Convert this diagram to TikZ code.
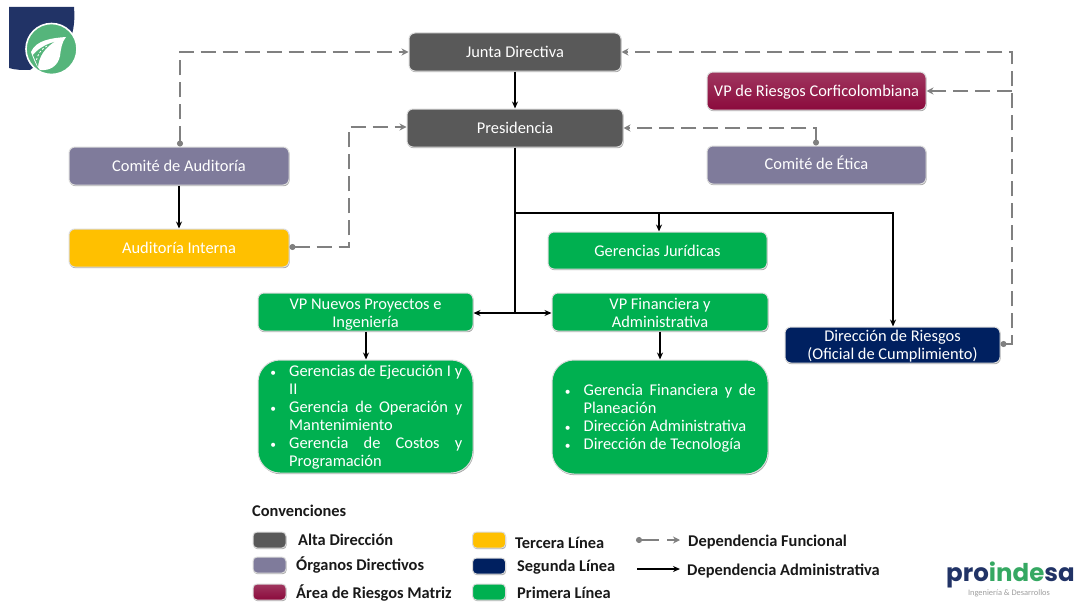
\documentclass[tikz,border=0pt]{standalone}
\usepackage{fontspec}
\setmainfont{Carlito}
\newfontfamily\logofont{Poppins}
\usetikzlibrary{arrows.meta,shadows,calc}
\definecolor{altaC}{HTML}{595959}
\definecolor{organoC}{HTML}{7F7B9B}
\definecolor{riesgoC}{HTML}{8B0A3C}
\definecolor{terceraC}{HTML}{FFC000}
\definecolor{segundaC}{HTML}{002060}
\definecolor{primeraC}{HTML}{00B050}
\definecolor{funcC}{HTML}{808080}
\definecolor{navyC}{HTML}{213366}
\definecolor{leafC}{HTML}{55B57B}
\definecolor{logoG}{HTML}{35A862}
\tikzset{
  x=1pt,y=-1pt,
  box/.style={draw=black!14,line width=1pt,rounded corners=6pt,text=white,align=center,
    font=\fontsize{16.4}{18}\selectfont,inner sep=0pt,
    drop shadow={shadow xshift=0.6pt,shadow yshift=-1.2pt,opacity=.35,fill=black}},
  sw/.style={box,rounded corners=4pt,minimum width=33pt,minimum height=16pt},
  risk/.style={top color=riesgoC!82!white,bottom color=riesgoC},
  lst/.style={text=white,inner sep=0pt,font=\fontsize{16.4}{18}\selectfont,anchor=north west,align=left},
  func/.style={funcC,line width=1.7pt,dash pattern=on 15pt off 7pt,{Circle[length=6pt]}-{Stealth[length=7pt,width=7pt]}},
  funcb/.style={funcC,line width=1.7pt,dash pattern=on 15pt off 7pt,-{Stealth[length=7pt,width=7pt]}},
  adm/.style={black,line width=1.7pt,-{Stealth[length=7pt,width=6pt]}},
  leg/.style={anchor=west,inner sep=0pt,font=\fontsize{16.4}{18}\selectfont\bfseries,text=black!90},
}
\newcommand{\bx}[7][]{\node[box,#7,minimum width=#4pt-#3pt,minimum height=#6pt-#5pt,#1] (#2) at ({(#3+#4)/2},{(#5+#6)/2})}
\newcommand{\itm}{\llap{\scalebox{.7}{\textbullet}\hspace{13pt}}}
\newcommand{\jl}[2]{\makebox[#1pt][s]{#2}}
\newcommand{\low}[2]{\raisebox{#1}[\height][\depth]{\begin{tabular}{@{}c@{}}#2\end{tabular}}}
\begin{document}
\begin{tikzpicture}
\useasboundingbox (0,0) rectangle (1078,602);
% logo
\fill[navyC] (9,7) -- (74,7) .. controls (75,20) and (74,30) .. (70,40) -- (30,70) .. controls (22,70) and (15,70) .. (9,68) -- cycle;
\node[circle,fill=leafC,draw=white,line width=1.6pt,minimum size=51pt,inner sep=0pt] (logoc) at (51.5,49) {};
\fill[white] (66,37) .. controls (52,38) and (36,40) .. (31,52) .. controls (34,60) and (36,66) .. (40,70) .. controls (50,71) and (58,66) .. (60,56) .. controls (61,48) and (62,42) .. (66,37) -- cycle;
\fill[leafC] (54,42) .. controls (44,45) and (37,50) .. (33,55) -- (38,67) .. controls (39,56) and (45,48) .. (54,42) -- cycle;
\draw[white,line width=.8pt,dash pattern=on 2pt off 2pt] (47,46) .. controls (41,49) and (37,55) .. (36,62);
% boxes
\bx{junta}{409}{621}{33}{71}{fill=altaC} {Junta Directiva};
\bx{pres}{407}{623}{109}{147}{fill=altaC} {Presidencia};
\bx{caud}{69}{289}{147}{185}{fill=organoC} {Comité de Auditoría};
\bx{aint}{69}{289}{229}{267}{fill=terceraC} {Auditoría Interna};
\bx{vpr}{707}{926}{72}{110}{risk} {\low{-2pt}{VP de Riesgos Corficolombiana}};
\bx{cet}{707}{926}{146}{184}{fill=organoC} {\low{0pt}{Comité de Ética}};
\bx{gjur}{548}{767}{232}{269}{fill=primeraC} {\low{-2pt}{Gerencias Jurídicas}};
\bx{vpn}{258}{473}{293}{331}{fill=primeraC} {\low{-3pt}{VP Nuevos Proyectos e\\Ingeniería}};
\bx{vpf}{552}{768}{293}{331}{fill=primeraC} {\low{-3pt}{VP Financiera y\\Administrativa}};
\bx{drie}{785}{1000}{327}{363}{fill=segundaC} {\low{-2pt}{Dirección de Riesgos\\(Oficial de Cumplimiento)}};
\bx[rounded corners=22pt]{gl}{258}{473}{360}{473}{fill=primeraC} {};
\bx[rounded corners=22pt]{gr}{552}{768}{360}{474}{fill=primeraC} {};
\node[lst] (gltxt) at (289,365) {\itm\jl{173}{Gerencias de Ejecución I y}\\
II\\
\itm\jl{173}{Gerencia de Operación y}\\
Mantenimiento\\
\itm\jl{173}{Gerencia de Costos y}\\
Programación};
\node[lst] (grtxt) at (583.5,384) {\itm\jl{172}{Gerencia Financiera y de}\\
Planeación\\
\itm Dirección Administrativa\\
\itm Dirección de Tecnología};
% functional
\coordinate (a1) at (180,52); \coordinate (a2) at (349,247); \coordinate (a3) at (349,127);
\coordinate (a4) at (816,128); \coordinate (a5) at (1012,344); \coordinate (a6) at (1012,52); \coordinate (a7) at (1012,91);
\draw[func] (caud.north -| a1) -- (a1) -- (a1 -| junta.west);
\draw[func] (aint.east |- a2) -- (a2) -- (a3) -- (a3 -| pres.west);
\draw[func] (cet.north -| a4) -- (a4) -- (a4 -| pres.east);
\draw[func] (drie.east |- a5) -- (a5) -- (a6) -- (a6 -| junta.east);
\draw[funcb] (a7) -- (a7 -| vpr.east);
% administrative
\coordinate (b1) at (515,213); \coordinate (b2) at (515,313); \coordinate (b3) at (893,213); \coordinate (b4) at (659,213);
\coordinate (c0) at (515,0); \coordinate (c1) at (366,0); \coordinate (c2) at (660,0);
\draw[adm] (junta.south -| c0) -- (pres.north -| c0);
\draw[adm,-] (pres.south -| b1) -- (b2);
\draw[adm] (b1) -- (b3) -- (b3 |- drie.north);
\draw[adm] (b4) -- (b4 |- gjur.north);
\draw[adm] (b2) -- (b2 -| vpn.east);
\draw[adm] (b2) -- (b2 -| vpf.west);
\draw[adm] (caud.south) -- (aint.north);
\draw[adm] (vpn.south -| c1) -- (gl.north -| c1);
\draw[adm] (vpf.south -| c2) -- (gr.north -| c2);
% legend
\node[leg] (conv) at (252,511) {Convenciones};
\node[sw,fill=altaC] (s1) at (269.5,540) {};
\node[sw,fill=organoC] (s2) at (269.5,565) {};
\node[sw,risk] (s3) at (269.5,592) {};
\node[sw,fill=terceraC] (s4) at (489,540) {};
\node[sw,fill=segundaC] (s5) at (489,566) {};
\node[sw,fill=primeraC] (s6) at (489,592) {};
\node[leg] (l1) at (298,540) {Alta Dirección};
\node[leg] (l2) at (296,565) {Órganos Directivos};
\node[leg] (l3) at (296,593) {Área de Riesgos Matriz};
\node[leg] (l4) at (515,543) {Tercera Línea};
\node[leg] (l5) at (517,567) {Segunda Línea};
\node[leg] (l6) at (517,593) {Primera Línea};
\node[leg] (l7) at (688,542) {Dependencia Funcional};
\node[leg] (l8) at (687,571) {Dependencia Administrativa};
\coordinate (k1) at (636,540); \coordinate (k2) at (680,540); \coordinate (k3) at (637,569); \coordinate (k4) at (680,569);
\draw[func,dash pattern=on 18pt off 8pt] (k1) -- (k2);
\draw[adm] (k3) -- (k4);
% proindesa logo
\node[anchor=west,inner sep=0pt,font=\logofont\fontsize{24.5}{26}\selectfont\bfseries] (plogo) at (946,575) {\textcolor{navyC}{pro}\textcolor{logoG}{inde}\textcolor{navyC}{sa}};
\node[anchor=north,inner sep=0pt,font=\fontsize{8.4}{9}\selectfont,text=black!38] (psub) at (1009,589) {Ingeniería \& Desarrollos};
\end{tikzpicture}
\end{document}
